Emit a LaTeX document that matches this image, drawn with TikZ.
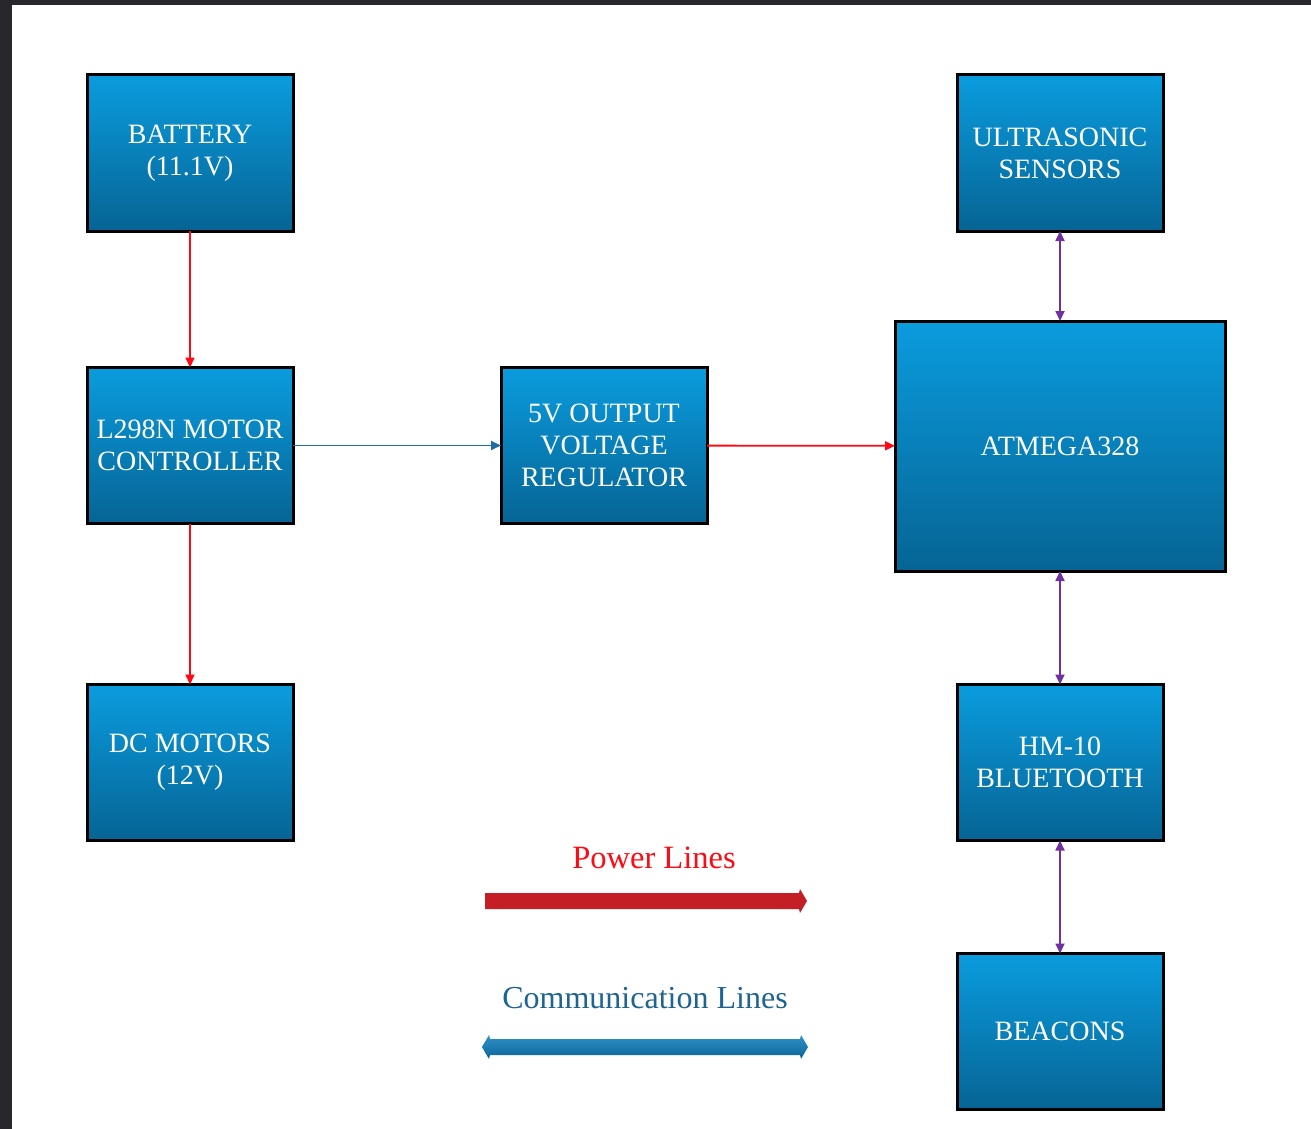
\documentclass[tikz,border=0pt]{standalone}
\usepackage{fontspec}
\setmainfont{Liberation Serif}
\usetikzlibrary{arrows.meta,shadows}
\definecolor{frame}{RGB}{40,40,44}
\definecolor{boxtop}{RGB}{10,156,222}
\definecolor{boxbot}{RGB}{6,100,148}
\definecolor{pwr}{RGB}{255,10,20}
\definecolor{comm}{RGB}{30,110,160}
\definecolor{bidir}{RGB}{112,48,160}
\definecolor{legred}{RGB}{196,30,38}
\definecolor{legblue}{RGB}{12,126,190}
\definecolor{legbluetxt}{RGB}{30,100,145}
\tikzset{
  blk/.style={draw=black, line width=3pt, top color=boxtop, bottom color=boxbot,
    text=white, align=center, inner sep=0pt, outer sep=0pt,
    font=\fontsize{28}{32}\selectfont,
    minimum width=206pt, minimum height=156pt},
  pwline/.style={draw=pwr, line width=1.8pt, -{Triangle[length=10pt,width=9pt]}},
  cmline/.style={draw=comm, line width=1.8pt, -{Triangle[length=10pt,width=9pt]}},
  biline/.style={draw=bidir, line width=1.8pt, {Triangle[length=10pt,width=9pt]}-{Triangle[length=10pt,width=9pt]}},
}
\begin{document}
\begin{tikzpicture}[x=1pt,y=-1pt]
\fill[frame] (0,0) rectangle (1311,1129);
\fill[white] (12,5) rectangle (1311,1129);
\useasboundingbox (0,0) rectangle (1311,1129);

\node[blk] (bat) at (190,153) {BATTERY\\(11.1V)};
\node[blk] (ctl) at (190,445.5) {L298N MOTOR\\CONTROLLER};
\node[blk] (mot) at (190,762.5) {DC MOTORS\\(12V)};
\node[blk] (reg) at (604,445.5) {5V OUTPUT\\VOLTAGE\\REGULATOR};
\node[blk, minimum width=330pt, minimum height=250pt] (mcu) at (1060,446) {ATMEGA328};
\node[blk] (ult) at (1060,153) {ULTRASONIC\\SENSORS};
\node[blk] (hm) at (1060,762.5) {HM-10\\BLUETOOTH};
\node[blk] (bea) at (1060,1031.5) {BEACONS};

\draw[pwline] (bat) -- (ctl);
\draw[pwline] (ctl) -- (mot);
\draw[cmline] (ctl) -- (reg);
\draw[pwline] (reg) -- (mcu);
\draw[biline] (ult) -- (mcu);
\draw[biline] (mcu) -- (hm);
\draw[biline] (hm) -- (bea);

\node[text=pwr, font=\fontsize{32.5}{36}\selectfont] (pl) at (654,858) {Power Lines};
\node[text=legbluetxt, font=\fontsize{32}{36}\selectfont] (cl) at (645,998) {Communication Lines};

\fill[legred] (485,893) -- (799,893) -- (800,889) -- (807,901) -- (800,913) -- (799,909) -- (485,909) -- cycle;
\shade[top color=legblue!85!white, bottom color=legblue!80!black]
  (490,1039) -- (800,1039) -- (801,1035) -- (808,1047) -- (801,1059) -- (800,1055)
  -- (490,1055) -- (489,1059) -- (482,1047) -- (489,1035) -- cycle;
\end{tikzpicture}
\end{document}
